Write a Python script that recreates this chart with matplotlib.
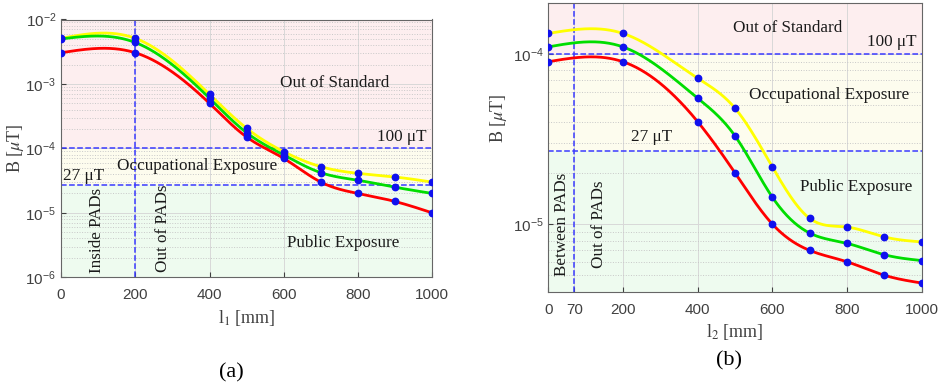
import numpy as np
import matplotlib
matplotlib.use("Agg")
import matplotlib.pyplot as plt

# distances [mm]
l1 = [0, 200, 400, 500, 600, 700, 800, 900, 1000]
l2 = [0, 200, 400, 500, 600, 700, 800, 900, 1000]

# panel (a)
a_yellow = [5.1e-3, 5.1e-3, 6.9e-4, 2.05e-4, 8.9e-5, 5.2e-5, 4.1e-5, 3.6e-5, 3.0e-5]
a_green = [5.0e-3, 4.4e-3, 6.0e-4, 1.75e-4, 7.9e-5, 4.2e-5, 3.2e-5, 2.5e-5, 2.0e-5]
a_red = [3.05e-3, 3.05e-3, 5.0e-4, 1.5e-4, 7.0e-5, 3.0e-5, 2.0e-5, 1.5e-5, 1.0e-5]

# panel (b)
b_yellow = [1.32e-4, 1.32e-4, 7.2e-5, 4.8e-5, 2.17e-5, 1.08e-5, 9.6e-6, 8.4e-6, 7.85e-6]
b_green = [1.1e-4, 1.1e-4, 5.5e-5, 3.3e-5, 1.44e-5, 8.85e-6, 7.7e-6, 6.6e-6, 6.1e-6]
b_red = [9.0e-5, 9.0e-5, 4.0e-5, 2.0e-5, 1.0e-5, 7.0e-6, 6.0e-6, 5.0e-6, 4.5e-6]

limit_high = 1e-4
limit_low = 2.7e-5

SERIF = "Liberation Serif"
plt.rcParams["font.family"] = "Liberation Sans"
plt.rcParams["mathtext.fontset"] = "stix"

PINK = "#fdeeef"
CREAM = "#fdfcee"
MINT = "#eefbef"
DASH = "#3a3aff"
TICK = "#404040"


def spline_curve(x, y, n=400):
    """natural cubic spline through the points, done in log10 space"""
    x = np.asarray(x, float)
    y = np.log10(np.asarray(y, float))
    k = len(x)
    h = np.diff(x)
    A = np.zeros((k, k))
    r = np.zeros(k)
    A[0, 0] = A[-1, -1] = 1.0
    for i in range(1, k - 1):
        A[i, i - 1] = h[i - 1]
        A[i, i] = 2 * (h[i - 1] + h[i])
        A[i, i + 1] = h[i]
        r[i] = 6 * ((y[i + 1] - y[i]) / h[i] - (y[i] - y[i - 1]) / h[i - 1])
    m = np.linalg.solve(A, r)
    xs = np.linspace(x[0], x[-1], n)
    idx = np.clip(np.searchsorted(x, xs) - 1, 0, k - 2)
    x0, x1 = x[idx], x[idx + 1]
    hh = x1 - x0
    t0, t1 = x1 - xs, xs - x0
    ys = (m[idx] * t0**3 + m[idx + 1] * t1**3) / (6 * hh) \
        + (y[idx] / hh - m[idx] * hh / 6) * t0 \
        + (y[idx + 1] / hh - m[idx + 1] * hh / 6) * t1
    return xs, 10 ** ys


def draw_panel(ax, x, series, ylim, xticks, vline):
    ax.set_yscale("log")
    ax.set_xlim(0, 1000)
    ax.set_ylim(*ylim)
    # exposure zones
    ax.axhspan(limit_high, ylim[1], color=PINK, zorder=0)
    ax.axhspan(limit_low, limit_high, color=CREAM, zorder=0)
    ax.axhspan(ylim[0], limit_low, color=MINT, zorder=0)
    ax.grid(True, which="major", color="#d8d8d8", lw=0.7, zorder=1)
    ax.grid(True, which="minor", axis="y", color="#c8c8c8", lw=0.7, ls=":", zorder=1)
    ax.set_axisbelow(True)
    for vals, col in series:
        xs, ys = spline_curve(x, vals)
        ax.plot(xs, ys, color=col, lw=2, zorder=3)
    for vals, col in series:
        ax.plot(x, vals, "o", color="#1010ee", ms=4.6, zorder=4)
    ax.axhline(limit_high, color=DASH, ls="--", lw=1.1, zorder=2)
    ax.axhline(limit_low, color=DASH, ls="--", lw=1.1, zorder=2)
    ax.axvline(vline, color=DASH, ls="--", lw=1.1, zorder=2)
    ax.set_xticks(xticks)
    ax.tick_params(which="both", direction="in", colors=TICK, labelsize=11)
    ax.tick_params(axis="x", pad=8)
    ax.tick_params(which="minor", length=0)
    for s in ax.spines.values():
        s.set_color("#666666")
        s.set_linewidth(0.8)
    ax.set_ylabel(r"B [$\mu$T]", family=SERIF, fontsize=13, color=TICK)


fig = plt.figure(figsize=(9.42, 3.90), dpi=100)
ax1 = fig.add_axes([0.0648, 0.289, 0.394, 0.661])
ax2 = fig.add_axes([0.582, 0.252, 0.3964, 0.741])

draw_panel(ax1, l1, [(a_yellow, "#ffff00"), (a_green, "#00dd00"), (a_red, "#ff0000")],
           (1e-6, 1e-2), [0, 200, 400, 600, 800, 1000], 200)
draw_panel(ax2, l2, [(b_yellow, "#ffff00"), (b_green, "#00dd00"), (b_red, "#ff0000")],
           (4e-6, 2e-4), [0, 70, 200, 400, 600, 800, 1000], 70)
ax2.set_yticks([1e-5, 1e-4])

ax1.set_xlabel(r"l$_1$ [mm]", family=SERIF, fontsize=13, color=TICK, labelpad=4)
ax2.set_xlabel(r"l$_2$ [mm]", family=SERIF, fontsize=13, color=TICK, labelpad=4)
ax1.yaxis.set_label_coords(-0.095, 0.5)
ax2.yaxis.set_label_coords(-0.105, 0.6)

tkw = dict(family=SERIF, fontsize=12.3, color="#1a1a1a", zorder=5)
# panel (a) annotations
ax1.text(736, 1.05e-3, "Out of Standard", ha="center", va="center", **tkw)
ax1.text(985, 1.12e-4, "100 μT", ha="right", va="bottom", **tkw)
ax1.text(368, 5.3e-5, "Occupational Exposure", ha="center", va="center", **tkw)
ax1.text(5, 2.85e-5, "27 μT", ha="left", va="bottom", **tkw)
ax1.text(759, 3.4e-6, "Public Exposure", ha="center", va="center", **tkw)
ax1.text(96, 1.15e-6, "Inside PADs", ha="center", va="bottom", rotation=90, **tkw)
ax1.text(276, 1.2e-6, "Out of PADs", ha="center", va="bottom", rotation=90, **tkw)

# panel (b) annotations
ax2.text(641, 1.43e-4, "Out of Standard", ha="center", va="center", **tkw)
ax2.text(987, 1.05e-4, "100 μT", ha="right", va="bottom", **tkw)
ax2.text(753, 5.75e-5, "Occupational Exposure", ha="center", va="center", **tkw)
ax2.text(278, 3.25e-5, "27 μT", ha="center", va="center", **tkw)
ax2.text(825, 1.66e-5, "Public Exposure", ha="center", va="center", **tkw)
ax2.text(36, 4.95e-6, "Between PADs", ha="center", va="bottom", rotation=90, **tkw)
ax2.text(137, 5.5e-6, "Out of PADs", ha="center", va="bottom", rotation=90, **tkw)

fig.text(231 / 942, 1 - 373 / 390, "(a)", family=SERIF, fontsize=16, ha="center", va="center")
fig.text(729 / 942, 1 - 361 / 390, "(b)", family=SERIF, fontsize=16, ha="center", va="center")

fig.savefig("out.png", dpi=100)
plt.close(fig)
